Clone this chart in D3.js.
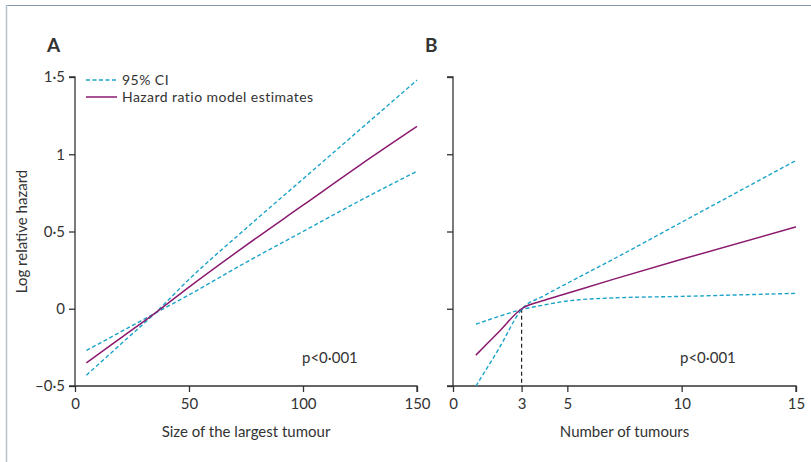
<!DOCTYPE html>
<html>
<head>
<meta charset="utf-8">
<script src="https://cdn.jsdelivr.net/npm/d3@7"></script>
<style>
  body { margin: 0; background: #fff; }
  svg text { font-family: Lato, "Noto Sans", sans-serif; fill: #333; }
</style>
</head>
<body>
<svg id="chart" width="811" height="462"></svg>
<script>
// Panel A: size of the largest tumour
const sizeX = [5, 20, 35, 50, 75, 100, 125, 150];
const sizeEst = [-0.35, -0.19, -0.03, 0.14, 0.41, 0.67, 0.93, 1.18];
const sizeUpper = [-0.43, -0.23, -0.03, 0.19, 0.52, 0.84, 1.16, 1.48];
const sizeLower = [-0.27, -0.15, -0.03, 0.09, 0.30, 0.50, 0.70, 0.89];

// Panel B: number of tumours
const countX = [1, 2, 3, 4, 5, 7, 10, 15];
const countEst = [-0.30, -0.15, 0, 0.055, 0.10, 0.19, 0.32, 0.53];
const countUpper = [-0.50, -0.26, -0.005, 0.086, 0.165, 0.32, 0.56, 0.96];
const countLower = [-0.10, -0.05, -0.005, 0.025, 0.05, 0.07, 0.08, 0.10];

const yTicks = [-0.5, 0, 0.5, 1, 1.5];
const sizeTicks = [0, 50, 100, 150];
const countTicks = [0, 3, 5, 10, 15];

const ciColor = '#1ba4c8';
const estColor = '#8b1a6f';
const axisColor = '#333';
const fontSize = 15;

const svg = d3.select('#chart');

// frame lines (top and left)
svg.append('line').attr('x1', 6).attr('y1', 5.5).attr('x2', 811).attr('y2', 5.5)
  .attr('stroke', '#8898a8').attr('stroke-width', 1);
svg.append('line').attr('x1', 6.5).attr('y1', 5).attr('x2', 6.5).attr('y2', 462)
  .attr('stroke', '#b8c2cc').attr('stroke-width', 1.5);

const y = d3.scaleLinear().domain([-0.5, 1.5]).range([386, 77]);

const fmt = d => {
  if (d === 0) return '0';
  const s = Math.abs(d).toString().replace('.', '·');
  return d < 0 ? '–' + s : s;
};

function drawPanel(opts) {
  const x = d3.scaleLinear().domain(opts.domain).range(opts.range);
  const g = svg.append('g');

  // y axis
  const yAxis = d3.axisLeft(y).tickValues(yTicks).tickSize(6).tickPadding(4)
    .tickFormat(opts.yLabels ? fmt : '');
  g.append('g').attr('transform', `translate(${opts.range[0]},0)`).call(yAxis)
    .call(a => a.select('.domain').attr('d', `M-6,${y(1.5)}H0V${y(-0.5)}H-6`))
    .call(a => a.selectAll('line,path').attr('stroke', axisColor).attr('stroke-width', 1.3))
    .call(a => a.selectAll('text').attr('font-size', fontSize).attr('fill', '#333')
      .attr('font-family', 'Lato, sans-serif'));

  // x axis
  const xAxis = d3.axisBottom(x).tickValues(opts.ticks).tickSize(6).tickPadding(6)
    .tickFormat(d3.format('d'));
  g.append('g').attr('transform', `translate(0,${y(-0.5)})`).call(xAxis)
    .call(a => a.select('.domain').attr('d', `M${opts.range[0]},0H${opts.range[1]}V6`))
    .call(a => a.selectAll('line,path').attr('stroke', axisColor).attr('stroke-width', 1.3))
    .call(a => a.selectAll('text').attr('font-size', fontSize).attr('fill', '#333')
      .attr('font-family', 'Lato, sans-serif'));

  const line = vals => d3.line()
    .x((d, i) => x(opts.xs[i]))
    .y(d => y(d))
    .curve(d3.curveMonotoneX)(vals);

  if (opts.refX !== undefined) {
    g.append('line')
      .attr('x1', x(opts.refX)).attr('x2', x(opts.refX))
      .attr('y1', y(0)).attr('y2', y(-0.5))
      .attr('stroke', '#222').attr('stroke-width', 1.2).attr('stroke-dasharray', '4,3');
  }

  [opts.upper, opts.lower].forEach(vals => {
    g.append('path').attr('d', line(vals)).attr('fill', 'none')
      .attr('stroke', ciColor).attr('stroke-width', 1.4).attr('stroke-dasharray', '4,2.5');
  });
  g.append('path').attr('d', line(opts.est)).attr('fill', 'none')
    .attr('stroke', estColor).attr('stroke-width', 1.5);

  g.append('text').attr('x', opts.range[0] - 28).attr('y', 52)
    .attr('font-size', 19).attr('font-weight', 'bold').attr('fill', '#222').text(opts.letter);

  g.append('text').attr('x', (opts.range[0] + opts.range[1]) / 2).attr('y', 437)
    .attr('text-anchor', 'middle').attr('font-size', fontSize).text(opts.xLabel);

  g.append('text').attr('x', opts.pX).attr('y', 363)
    .attr('font-size', fontSize).text('p<0·001');
}

drawPanel({
  letter: 'A', domain: [0, 150], range: [75, 417], ticks: sizeTicks,
  xs: sizeX, est: sizeEst, upper: sizeUpper, lower: sizeLower,
  xLabel: 'Size of the largest tumour', pX: 302, yLabels: true
});

drawPanel({
  letter: 'B', domain: [0, 15], range: [453, 796], ticks: countTicks,
  xs: countX, est: countEst, upper: countUpper, lower: countLower,
  xLabel: 'Number of tumours', pX: 680, yLabels: false, refX: 3
});

// y label
svg.append('text').attr('transform', `translate(27,${(y(1.5) + y(-0.5)) / 2}) rotate(-90)`)
  .attr('text-anchor', 'middle').attr('font-size', fontSize).text('Log relative hazard');

// legend
const legend = svg.append('g').attr('font-size', 14).attr('letter-spacing', 0.45);
legend.append('line').attr('x1', 86).attr('x2', 117).attr('y1', 80).attr('y2', 80)
  .attr('stroke', ciColor).attr('stroke-width', 1.4).attr('stroke-dasharray', '4,2.5');
legend.append('text').attr('x', 122).attr('y', 85).text('95% CI');
legend.append('line').attr('x1', 86).attr('x2', 117).attr('y1', 97).attr('y2', 97)
  .attr('stroke', estColor).attr('stroke-width', 1.5);
legend.append('text').attr('x', 122).attr('y', 102).text('Hazard ratio model estimates');
</script>
</body>
</html>
